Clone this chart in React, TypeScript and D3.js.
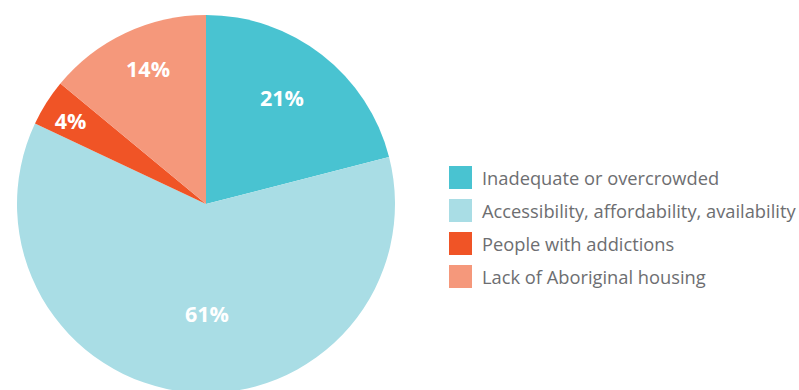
import React from "react";
import * as d3 from "d3";

const categories = [
  "Inadequate or overcrowded",
  "Accessibility, affordability, availability",
  "People with addictions",
  "Lack of Aboriginal housing",
];
const values = [21, 61, 4, 14];
const colors = ["#49C3D1", "#A9DDE5", "#F05426", "#F5987B"];
// label placement: radius fraction and angular nudge (degrees) per slice
const labelRadiusFrac = [0.694, 0.582, 0.841, 0.782];
const labelAngleNudge = [-2.4, -5.9, -0.9, 2.1];

export default function App() {
  const width = 799;
  const height = 390;
  const cx = 206;
  const cy = 204;
  const r = 189;

  const pie = d3.pie<number>().sort(null).value((d) => d);
  const arcs = pie(values);
  const arcGen = d3.arc<d3.PieArcDatum<number>>().innerRadius(0).outerRadius(r);

  const legendX = 449;
  const legendY = 166;
  const rowStep = 33;
  const sw = 23;

  return (
    <svg
      width={width}
      height={height}
      style={{ position: "absolute", left: 0, top: 0, background: "#fff" }}
    >
      <g transform={`translate(${cx},${cy})`}>
        {arcs.map((a, i) => (
          <path key={i} d={arcGen(a) || ""} fill={colors[i]} />
        ))}
        {arcs.map((a, i) => {
          const mid = (a.startAngle + a.endAngle) / 2 + (labelAngleNudge[i] * Math.PI) / 180;
          const lr = r * labelRadiusFrac[i];
          const x = Math.sin(mid) * lr;
          const y = -Math.cos(mid) * lr;
          return (
            <text
              key={"l" + i}
              x={x}
              y={y}
              textAnchor="middle"
              dominantBaseline="central"
              fill="#fff"
              fontFamily="'Open Sans', sans-serif"
              fontWeight={700}
              fontSize={21.5}
            >
              {values[i]}%
            </text>
          );
        })}
      </g>
      <g>
        {categories.map((c, i) => (
          <g key={c} transform={`translate(${legendX},${legendY + i * rowStep})`}>
            <rect width={sw} height={sw} fill={colors[i]} />
            <text
              x={33}
              y={sw / 2}
              dominantBaseline="central"
              fill="#6D6E71"
              fontFamily="'Open Sans', sans-serif"
              fontSize={18.3}
            >
              {c}
            </text>
          </g>
        ))}
      </g>
    </svg>
  );
}
